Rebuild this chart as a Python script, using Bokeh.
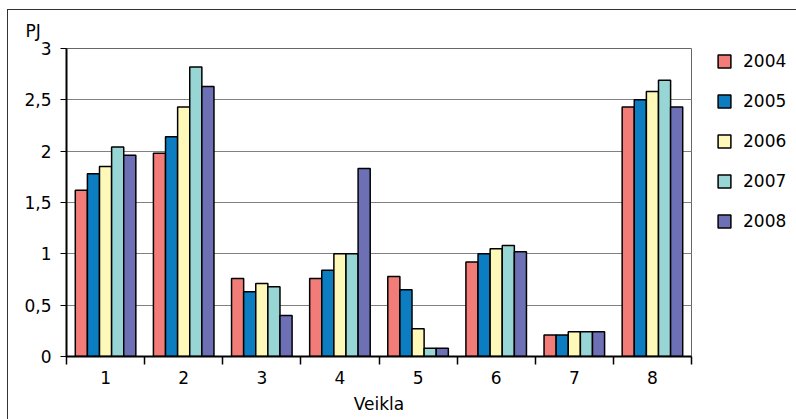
from bokeh.plotting import figure
from bokeh.models import ColumnDataSource, FixedTicker, Legend, Title, Range1d
from bokeh.embed import file_html
from bokeh.resources import INLINE

categories = [1, 2, 3, 4, 5, 6, 7, 8]
years = ["2004", "2005", "2006", "2007", "2008"]
y2004 = [1.62, 1.98, 0.76, 0.76, 0.78, 0.92, 0.21, 2.43]
y2005 = [1.78, 2.14, 0.63, 0.84, 0.65, 1.00, 0.21, 2.50]
y2006 = [1.85, 2.43, 0.71, 1.00, 0.27, 1.05, 0.24, 2.58]
y2007 = [2.04, 2.82, 0.68, 1.00, 0.08, 1.08, 0.24, 2.69]
y2008 = [1.96, 2.63, 0.40, 1.83, 0.08, 1.02, 0.24, 2.43]
series = [y2004, y2005, y2006, y2007, y2008]
colors = ["#F27C78", "#0B7DC0", "#FFF9B9", "#97D6D4", "#6D70B5"]
y_ticks = [0, 0.5, 1, 1.5, 2, 2.5, 3]
y_tick_labels = ["0", "0,5", "1", "1,5", "2", "2,5", "3"]

FONT = "DejaVu Sans"

p = figure(frame_width=625, frame_height=308, output_backend="svg", toolbar_location=None,
           x_range=Range1d(0.5, 8.5), y_range=Range1d(0, 3),
           min_border_left=58, min_border_right=96, min_border_top=37,
           min_border_bottom=63)
p.styles = {"border-top": "1px solid #333333", "border-left": "1px solid #333333",
            "margin-top": "9px", "margin-left": "7px"}

bw = 0.155
for i, (vals, c, yr) in enumerate(zip(series, colors, years)):
    xs = [k + (i - 2) * bw for k in categories]
    src = ColumnDataSource(dict(x=xs, top=vals))
    p.vbar(x="x", top="top", width=bw, bottom=0, source=src, fill_color=c,
           line_color="black", line_width=1.5, legend_label=yr)

p.outline_line_color = "#666666"
p.outline_line_width = 1
p.xgrid.grid_line_color = None
p.ygrid.grid_line_color = "#808080"
p.ygrid.grid_line_width = 1
p.ygrid.ticker = FixedTicker(ticks=y_ticks)

p.yaxis.ticker = FixedTicker(ticks=y_ticks)
p.yaxis.major_label_overrides = {t: l for t, l in zip(y_ticks, y_tick_labels)}
p.yaxis.axis_line_width = 2
p.yaxis.axis_line_color = "black"
p.yaxis.major_tick_out = 6
p.yaxis.major_tick_in = 0
p.yaxis.minor_tick_out = 0
p.yaxis.minor_tick_in = 0
p.yaxis.major_tick_line_color = "black"
p.yaxis.major_label_standoff = 9
p.yaxis.major_label_text_font = FONT
p.yaxis.major_label_text_font_size = "17px"
p.yaxis.major_label_text_color = "black"

p.xaxis.ticker = FixedTicker(ticks=categories, minor_ticks=[k + 0.5 for k in [0] + categories])
p.xaxis.axis_line_width = 2
p.xaxis.axis_line_color = "black"
p.xaxis.major_tick_out = 0
p.xaxis.major_tick_in = 0
p.xaxis.minor_tick_out = 8
p.xaxis.minor_tick_in = 0
p.xaxis.minor_tick_line_color = "black"
p.xaxis.minor_tick_line_width = 1.5
p.xaxis.major_label_standoff = 6
p.xaxis.major_label_text_font = FONT
p.xaxis.major_label_text_font_size = "17px"
p.xaxis.major_label_text_color = "black"
p.xaxis.axis_label = "Veikla"
p.xaxis.axis_label_text_font = FONT
p.xaxis.axis_label_text_font_size = "17px"
p.xaxis.axis_label_text_font_style = "normal"
p.xaxis.axis_label_standoff = 7
p.xaxis.axis_label_text_color = "black"

t = Title(text="PJ", align="left", offset=-41, standoff=16,
          text_font=FONT, text_font_size="17px", text_font_style="normal",
          text_color="black")
p.add_layout(t, "above")

leg = p.legend[0]
p.center = [r for r in p.center if not isinstance(r, Legend)]
leg.location = "top_left"
leg.margin = 3
leg.padding = 0
leg.title = " "
leg.title_location = "left"
leg.title_standoff = 21
leg.title_text_font_size = "1px"
leg.border_line_color = None
leg.background_fill_alpha = 0
leg.glyph_width = 16
leg.glyph_height = 16
leg.label_height = 16
leg.spacing = 20
leg.label_standoff = 11
leg.label_text_font = FONT
leg.label_text_font_size = "17px"
leg.label_text_color = "black"
p.add_layout(leg, "right")

open("out.html", "w").write(file_html(p, INLINE))
